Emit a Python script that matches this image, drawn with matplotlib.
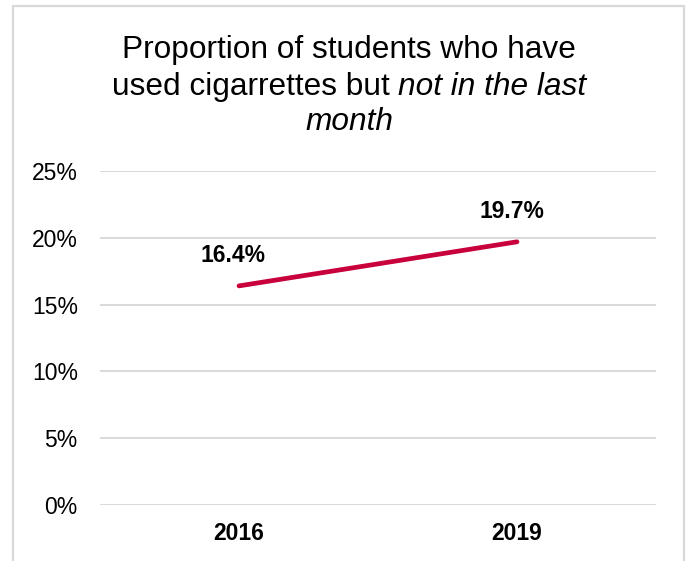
import matplotlib
matplotlib.use("Agg")
import matplotlib.pyplot as plt
from matplotlib.patches import Rectangle
from matplotlib.ticker import FuncFormatter

years = ["2016", "2019"]
values = [16.4, 19.7]
yticks = [0, 5, 10, 15, 20, 25]
title_line1 = "Proportion of students who have"
title_line2_regular = "used cigarrettes but "
title_line2_italic = "not in the last"
title_line3_italic = "month"

plt.rcParams['font.family'] = ['Liberation Sans', 'DejaVu Sans']

W, H = 686, 561
fig = plt.figure(figsize=(W / 100, H / 100), dpi=100)

# border (no bottom edge visible)
fig.patches.append(Rectangle((13 / W, -0.1), (684 - 13) / W, 1.1 - 6 / H,
                             transform=fig.transFigure, fill=False,
                             edgecolor='#D9D9D9', linewidth=1.6, clip_on=False))

ax = fig.add_axes([100 / W, 1 - 505 / H, (656 - 100) / W, (505 - 171) / H])
x = [0.5, 1.5]
ax.plot(x, values, color='#C8003C', linewidth=3.4, solid_capstyle='round', zorder=3)
ax.set_xlim(0, 2)
ax.set_ylim(0, 25)
ax.set_yticks(yticks)
ax.yaxis.set_major_formatter(FuncFormatter(lambda v, p: f"{v:.0f}%"))
ax.set_xticks(x)
ax.set_xticklabels(years, fontweight='bold')
ax.tick_params(axis='y', length=0, pad=16, labelsize=16.5, labelcolor='black')
ax.tick_params(axis='x', length=0, pad=12, labelsize=16.5, labelcolor='black')
ax.grid(axis='y', color='#D9D9D9', linewidth=1.4)
ax.set_axisbelow(True)
for s in ax.spines.values():
    s.set_visible(False)

for xi, v in zip(x, values):
    ax.annotate(f"{v}%", (xi, v), xytext=(-4, 22), textcoords='offset points',
                ha='center', va='center', fontsize=16.5, fontweight='bold')

# title
cx = 349 / W
fs = 22.8
fig.text(cx, 1 - 50 / H, title_line1, ha='center', va='center', fontsize=fs)
renderer = fig.canvas.get_renderer()
ta = fig.text(0, 1 - 87 / H, title_line2_regular, ha='left', va='center', fontsize=fs)
tb = fig.text(0, 1 - 87 / H, title_line2_italic, ha='left', va='center', fontsize=fs, style='italic')
wa = ta.get_window_extent(renderer).width
wb = tb.get_window_extent(renderer).width
start = cx * W - (wa + wb) / 2
ta.set_x(start / W)
tb.set_x((start + wa) / W)
fig.text(cx, 1 - 122 / H, title_line3_italic, ha='center', va='center', fontsize=fs, style='italic')

fig.savefig("out.png", dpi=100)
